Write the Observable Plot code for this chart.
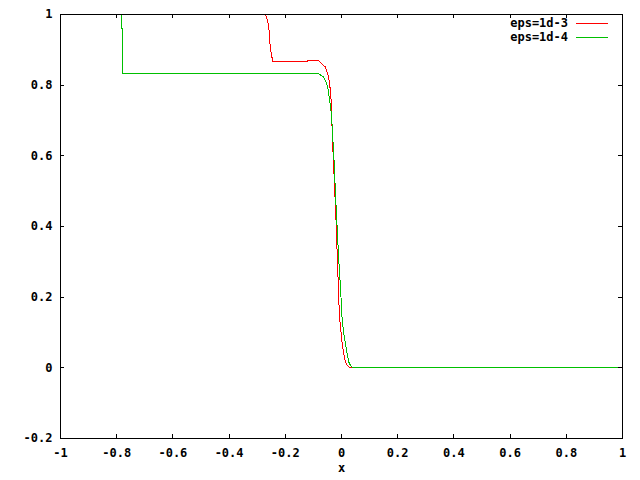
<!DOCTYPE html>
<html>
<head>
<meta charset="utf-8">
<script src="https://cdn.jsdelivr.net/npm/d3@7"></script>
<script src="https://cdn.jsdelivr.net/npm/@observablehq/plot@0.6"></script>
<style>
  body { margin: 0; background: white; }
  #wrap { position: relative; width: 640px; height: 480px; }
  .leg { position: absolute; font: bold 12px "DejaVu Sans Mono", monospace; color: black; }
  .leg .row { position: absolute; right: 0; height: 14px; white-space: nowrap; }
  .leg .lab { position: absolute; right: 40px; top: 0; line-height: 14px; }
  .leg .sw { position: absolute; right: 0; top: 7px; width: 32px; height: 1px; }
</style>
</head>
<body>
<div id="wrap"></div>
<script>
const seriesNames = ["eps=1d-3", "eps=1d-4"];
const seriesColors = ["#ff0000", "#00c000"];
const xTicks = [-1, -0.8, -0.6, -0.4, -0.2, 0, 0.2, 0.4, 0.6, 0.8, 1];
const yTicks = [-0.2, 0, 0.2, 0.4, 0.6, 0.8, 1];
const xLabel = "x";

// eps=1d-3
const redX = [-0.270, -0.263, -0.258, -0.254, -0.249, -0.244, -0.200, -0.122, -0.121, -0.082, -0.069, -0.057, -0.049, -0.042, -0.037, -0.031, -0.024, -0.019, -0.015, -0.012, -0.0096, -0.006, -0.001, 0.0025, 0.008, 0.014, 0.020, 0.032, 1];
const redY = [1.0, 0.983, 0.955, 0.912, 0.884, 0.867, 0.866, 0.866, 0.869, 0.869, 0.860, 0.851, 0.832, 0.804, 0.757, 0.624, 0.501, 0.408, 0.313, 0.247, 0.190, 0.134, 0.097, 0.069, 0.040, 0.016, 0.0065, 0.0, 0.0];
// eps=1d-4
const greenX = [-0.783, -0.783, -0.779, -0.779, -0.081, -0.065, -0.057, -0.049, -0.042, -0.036, -0.027, -0.021, -0.015, -0.0096, -0.0036, 0.0025, 0.008, 0.014, 0.020, 0.026, 0.032, 0.040, 1];
const greenY = [1.0, 0.96, 0.96, 0.832, 0.832, 0.824, 0.813, 0.794, 0.757, 0.720, 0.596, 0.483, 0.389, 0.304, 0.228, 0.134, 0.097, 0.069, 0.040, 0.016, 0.0065, 0.0, 0.0];

const red = redX.map((x, i) => ({x, y: redY[i]}));
const green = greenX.map((x, i) => ({x, y: greenY[i]}));

const W = 640, H = 480, mL = 60, mR = 18, mT = 14, mB = 42;
const innerH = H - mT - mB, innerW = W - mL - mR;
const fmt = d => String(d);

const chart = Plot.plot({
  width: W, height: H,
  marginLeft: mL, marginRight: mR, marginTop: mT, marginBottom: mB,
  x: {domain: [-1, 1]},
  y: {domain: [-0.2, 1]},
  style: {fontFamily: "'DejaVu Sans Mono', monospace", fontWeight: "bold", fontSize: "12px", background: "white", color: "black"},
  marks: [
    Plot.line(red, {x: "x", y: "y", stroke: seriesColors[0], strokeWidth: 1, clip: true, shapeRendering: "crispEdges"}),
    Plot.line(green, {x: "x", y: "y", stroke: seriesColors[1], strokeWidth: 1, clip: true, shapeRendering: "crispEdges"}),
    Plot.tickX(xTicks, {x: d => d, insetTop: innerH - 4, stroke: "black", shapeRendering: "crispEdges"}),
    Plot.tickX(xTicks, {x: d => d, insetBottom: innerH - 4, stroke: "black", shapeRendering: "crispEdges"}),
    Plot.tickY(yTicks, {y: d => d, insetRight: innerW - 4, stroke: "black", shapeRendering: "crispEdges"}),
    Plot.tickY(yTicks, {y: d => d, insetLeft: innerW - 4, stroke: "black", shapeRendering: "crispEdges"}),
    Plot.frame({stroke: "black", shapeRendering: "crispEdges"}),
    Plot.axisX(xTicks, {anchor: "bottom", tickSize: 0, tickPadding: 10, tickFormat: fmt, label: null}),
    Plot.axisY(yTicks, {anchor: "left", tickSize: 0, tickPadding: 8, tickFormat: fmt, label: null}),
    Plot.text([xLabel], {frameAnchor: "bottom", text: d => d, dy: 33, fill: "black"})
  ]
});

const wrap = document.getElementById("wrap");
wrap.appendChild(chart);

const leg = document.createElement("div");
leg.className = "leg";
leg.style.left = "0px";
leg.style.top = "0px";
leg.style.width = "608px";
seriesNames.forEach((name, i) => {
  const row = document.createElement("div");
  row.className = "row";
  row.style.top = (16 + i * 14) + "px";
  const lab = document.createElement("span");
  lab.className = "lab";
  lab.textContent = name;
  const sw = document.createElement("span");
  sw.className = "sw";
  sw.style.background = seriesColors[i];
  row.appendChild(lab);
  row.appendChild(sw);
  leg.appendChild(row);
});
wrap.appendChild(leg);
</script>
</body>
</html>
